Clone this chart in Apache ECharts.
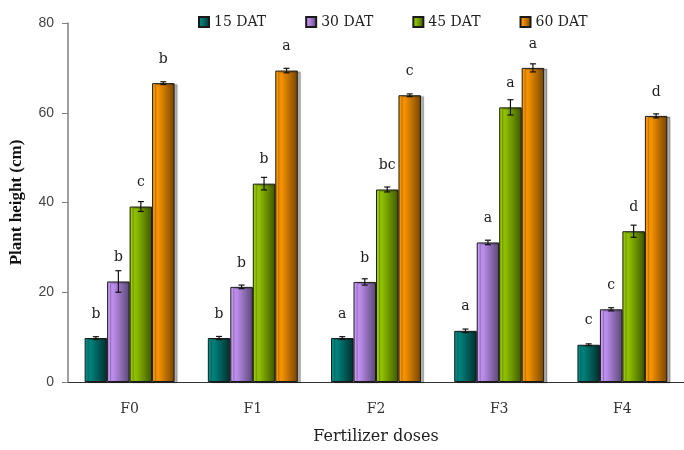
<!DOCTYPE html>
<html>
<head>
<meta charset="utf-8">
<script src="https://cdn.jsdelivr.net/npm/echarts@6/dist/echarts.min.js"></script>
<style>
  html, body { margin: 0; padding: 0; background: #fff; }
  #chart { width: 684px; height: 450px; }
</style>
</head>
<body>
<div id="chart"></div>
<script>
// Plant height (cm) by fertilizer dose at four sampling dates
const categories = ['F0', 'F1', 'F2', 'F3', 'F4'];
const seriesNames = ['15 DAT', '30 DAT', '45 DAT', '60 DAT'];

const dat15 = [9.8, 9.8, 9.8, 11.4, 8.3];
const dat30 = [22.4, 21.2, 22.3, 31.1, 16.2];
const dat45 = [39.1, 44.2, 42.9, 61.2, 33.6];
const dat60 = [66.6, 69.4, 63.9, 70.0, 59.3];

// standard errors
const err15 = [0.3, 0.35, 0.3, 0.4, 0.2];
const err30 = [2.4, 0.4, 0.7, 0.5, 0.35];
const err45 = [1.1, 1.4, 0.55, 1.7, 1.35];
const err60 = [0.3, 0.5, 0.3, 0.9, 0.45];

// significance letters
const let15 = ['b', 'b', 'a', 'a', 'c'];
const let30 = ['b', 'b', 'b', 'a', 'c'];
const let45 = ['c', 'b', 'bc', 'a', 'd'];
const let60 = ['b', 'a', 'c', 'a', 'd'];

const yTicks = { min: 0, max: 80, interval: 20 };

const values = [dat15, dat30, dat45, dat60];
const errors = [err15, err30, err45, err60];
const letters = [let15, let30, let45, let60];

const gradients = [
  ['#00928b', '#007d77', '#002e2c'],
  ['#cc9ef9', '#b98be9', '#5a4674'],
  ['#9fd000', '#8cbc00', '#3c5600'],
  ['#ff9c00', '#f39000', '#754400']
];

const CAT_GAP = 0.27;
const serif = 'DejaVu Serif';

function grad(c) {
  return new echarts.graphic.LinearGradient(0, 0, 1, 0, [
    { offset: 0, color: c[0] },
    { offset: 0.3, color: c[1] },
    { offset: 1, color: c[2] }
  ]);
}

const series = [];
values.forEach((vals, k) => {
  series.push({
    name: seriesNames[k],
    type: 'bar',
    data: vals,
    barGap: '0%',
    barCategoryGap: (CAT_GAP * 100) + '%',
    itemStyle: {
      color: grad(gradients[k]),
      borderColor: '#1a1a1a',
      borderWidth: 1,
      shadowColor: 'rgba(0,0,0,0.3)',
      shadowOffsetX: 3,
      shadowOffsetY: 1,
      shadowBlur: 1
    },
    label: {
      show: true,
      position: 'top',
      distance: 17,
      formatter: p => letters[k][p.dataIndex],
      fontFamily: serif,
      fontSize: 14,
      color: '#222'
    },
    emphasis: { disabled: true },
    z: 2
  });
});

// error bars drawn over each bar
values.forEach((vals, k) => {
  series.push({
    name: 'err-' + seriesNames[k],
    type: 'custom',
    data: vals.map((v, i) => [i, v - errors[k][i], v + errors[k][i]]),
    encode: { x: 0, y: [1, 2] },
    z: 5,
    silent: true,
    renderItem: function (params, api) {
      const i = api.value(0);
      const lo = api.coord([i, api.value(1)]);
      const hi = api.coord([i, api.value(2)]);
      const band = api.size([1, 0])[0];
      const group = band * (1 - CAT_GAP);
      const bw = group / 4;
      const x = lo[0] - group / 2 + bw * (k + 0.5);
      const cap = 3;
      const style = { stroke: '#111', lineWidth: 1.2 };
      return {
        type: 'group',
        children: [
          { type: 'line', shape: { x1: x, y1: lo[1], x2: x, y2: hi[1] }, style },
          { type: 'line', shape: { x1: x - cap, y1: lo[1], x2: x + cap, y2: lo[1] }, style },
          { type: 'line', shape: { x1: x - cap, y1: hi[1], x2: x + cap, y2: hi[1] }, style }
        ]
      };
    }
  });
});

const chart = echarts.init(document.getElementById('chart'), null, { renderer: 'canvas' });
chart.setOption({
  animation: false,
  backgroundColor: '#ffffff',
  grid: { left: 67, top: 23, bottom: 63, right: -8, containLabel: false },
  legend: {
    data: seriesNames,
    left: 193,
    top: 10,
    icon: 'rect',
    itemWidth: 10,
    itemHeight: 10,
    itemGap: 39,
    textStyle: { fontFamily: serif, fontSize: 14, color: '#222' }
  },
  xAxis: {
    type: 'category',
    data: categories,
    name: 'Fertilizer doses',
    nameLocation: 'middle',
    nameGap: 47,
    nameTextStyle: { fontFamily: serif, fontSize: 16, color: '#222' },
    axisLine: { lineStyle: { color: '#333', width: 1 } },
    axisTick: { length: 6, lineStyle: { color: '#555' } },
    axisLabel: { margin: 20, fontFamily: serif, fontSize: 14, color: '#333' }
  },
  yAxis: {
    type: 'value',
    min: yTicks.min,
    max: yTicks.max,
    interval: yTicks.interval,
    name: 'Plant height (cm)',
    nameLocation: 'middle',
    nameGap: 43,
    nameTextStyle: { fontFamily: 'Liberation Serif', fontWeight: 'bold', fontSize: 17, color: '#111' },
    axisLine: { show: true, lineStyle: { color: '#808080', width: 1.5 } },
    axisTick: { show: true, length: 6, lineStyle: { color: '#808080' } },
    axisLabel: { margin: 14, fontFamily: 'Liberation Sans', fontSize: 14, color: '#444' },
    splitLine: { show: false }
  },
  series
});
</script>
</body>
</html>
